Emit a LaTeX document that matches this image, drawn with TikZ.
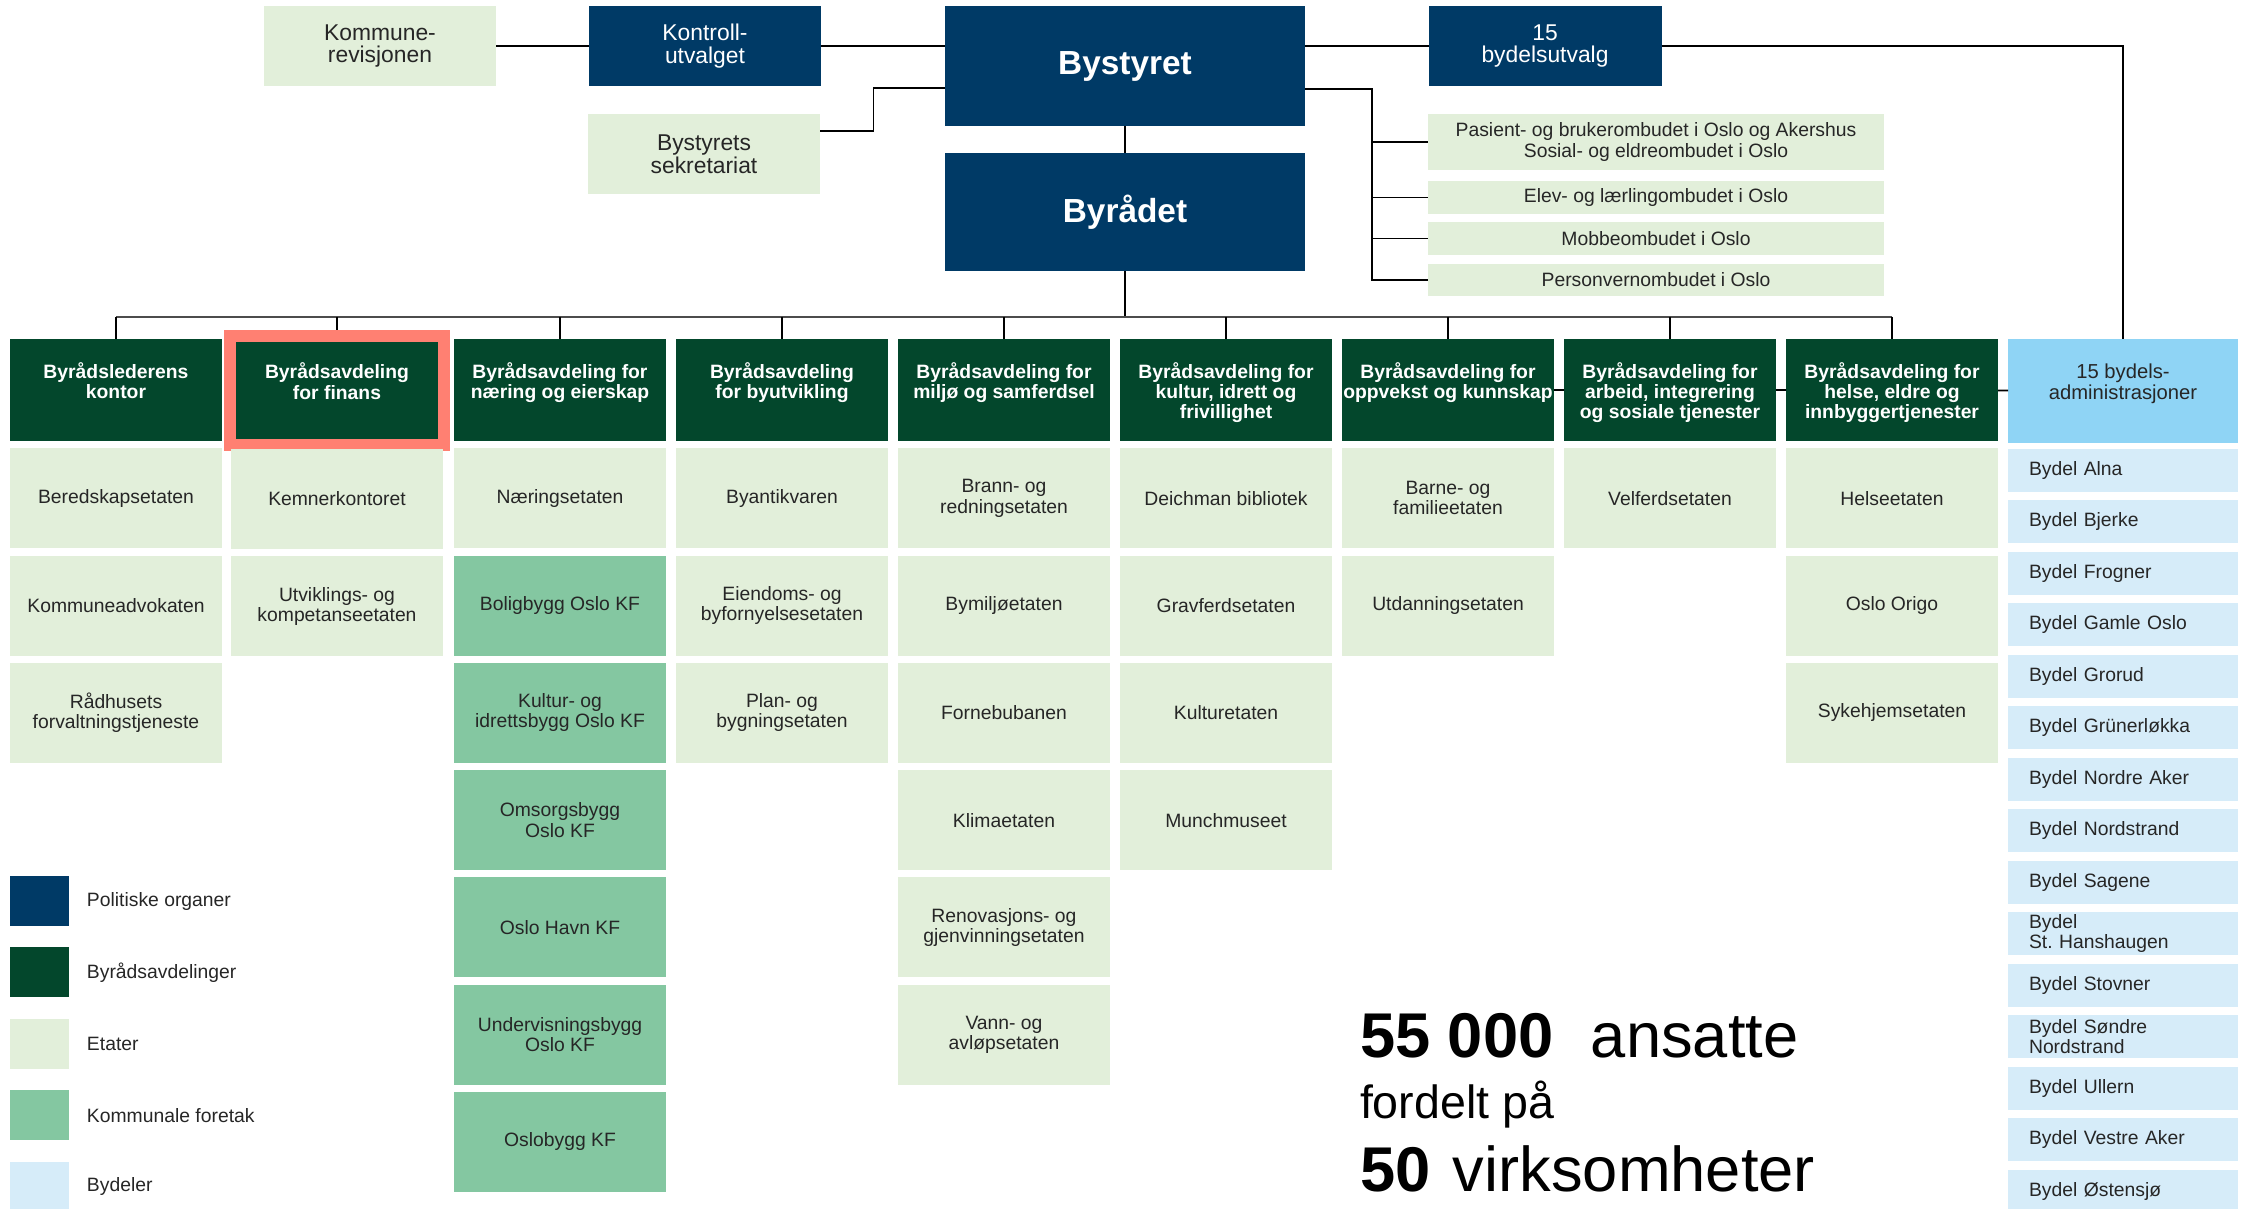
\documentclass[tikz,border=0pt]{standalone}
\usepackage{fontspec}
\setmainfont{Liberation Sans}
\usepackage{tikz}
\usetikzlibrary{positioning}

\definecolor{polblue}{HTML}{003A66}
\definecolor{avdgreen}{HTML}{03472C}
\definecolor{etatgreen}{HTML}{E2EFDA}
\definecolor{kfgreen}{HTML}{84C7A1}
\definecolor{bydelblue}{HTML}{D6ECF9}
\definecolor{adminblue}{HTML}{8FD4F5}
\definecolor{markred}{HTML}{FF8072}
\definecolor{txtgray}{HTML}{262626}

\newcommand{\toptxt}[1]{\parbox[c][1.1cm][t]{4.24cm}{\centering #1}}

\tikzset{x=0.02cm,y=-0.02cm,node distance=0.146cm,
  every node/.style={font=\fontsize{11}{11.5}\selectfont,align=center,inner sep=0pt,outer sep=0pt},
  polbox/.style={fill=polblue,text=white,minimum width=4.66cm,minimum height=1.62cm,font=\fontsize{13}{13}\selectfont},
  topetat/.style={polbox,fill=etatgreen,text=txtgray},
  mainbox/.style={fill=polblue,text=white,minimum width=7.2cm,font=\bfseries\fontsize{19}{19}\selectfont},
  ombud/.style={fill=etatgreen,text=txtgray,minimum width=9.12cm,minimum height=0.66cm},
  avd/.style={fill=avdgreen,text=white,font=\bfseries\fontsize{11}{11.5}\selectfont,minimum width=4.24cm,minimum height=2.04cm},
  admin/.style={fill=adminblue,text=txtgray,minimum width=4.6cm,minimum height=2.08cm,font=\fontsize{11.5}{12}\selectfont},
  etat/.style={fill=etatgreen,text=txtgray,minimum width=4.24cm,minimum height=2cm},
  kf/.style={etat,fill=kfgreen},
  bydel/.style={fill=bydelblue,text=txtgray,minimum width=4.6cm,minimum height=0.86cm,text width=3.76cm,align=left},
  swatch/.style={minimum width=1.18cm,minimum height=1cm},
  conn/.style={draw=black,line width=0.9pt},
  busline/.style={draw=black!70,line width=1.4pt}}

\begin{document}
\begin{tikzpicture}
    \useasboundingbox (0,0) rectangle (2244,1209);
    % politiske organer
    \node[topetat] (kr) at (380,46) {Kommune-\\revisjonen};
    \node[polbox] (ku) at (705,46) {Kontroll-\\utvalget};
    \node[mainbox,minimum height=2.42cm] (by) at (1125,66) {Bystyret};
    \node[topetat,minimum height=1.6cm] (bs) at (704,154) {Bystyrets\\sekretariat};
    \node[mainbox,minimum height=2.38cm] (br) at (1125,212) {Byrådet};
    \node[polbox] (bu) at (1545,46) {15\\bydelsutvalg};
    \node[ombud,minimum height=1.12cm] (pa) at (1656,142) {Pasient- og brukerombudet i Oslo og Akershus\\Sosial- og eldreombudet i Oslo};
    \node[ombud] (el) at (1656,197.5) {Elev- og lærlingombudet i Oslo};
    \node[ombud] (mo) at (1656,238.5) {Mobbeombudet i Oslo};
    \node[ombud] (pe) at (1656,280) {Personvernombudet i Oslo};

    % byraadsavdelinger
    \node[avd] (h1) at (116,390) {\toptxt{Byrådslederens\\kontor}};
    \node[avd,draw=markred,line width=0.24cm,minimum width=4.3cm,minimum height=2.18cm] (h2) at (337,390.5) {\toptxt{Byrådsavdeling\\for finans}};
    \node[avd] (h3) at (560,390) {\toptxt{Byrådsavdeling for\\næring og eierskap}};
    \node[avd] (h4) at (782,390) {\toptxt{Byrådsavdeling\\for byutvikling}};
    \node[avd] (h5) at (1004,390) {\toptxt{Byrådsavdeling for\\miljø og samferdsel}};
    \node[avd] (h6) at (1226,390) {\toptxt{Byrådsavdeling for\\kultur, idrett og\\frivillighet}};
    \node[avd] (h7) at (1448,390) {\toptxt{Byrådsavdeling for\\oppvekst og kunnskap}};
    \node[avd] (h8) at (1670,390) {\toptxt{Byrådsavdeling for\\arbeid, integrering\\og sosiale tjenester}};
    \node[avd] (h9) at (1892,390) {\toptxt{Byrådsavdeling for\\helse, eldre og\\innbyggertjenester}};
    \node[admin] (ba) at (2123,391) {\toptxt{15 bydels-\\administrasjoner}};

    % etater og foretak
    \node[etat,below=of h1] (e11) {Beredskapsetaten};
    \node[etat,below=of e11] (e12) {Kommuneadvokaten};
    \node[etat,below=of e12] (e13) {Rådhusets\\forvaltningstjeneste};
    \node[etat,below=0.08cm of h2] (e21) {Kemnerkontoret};
    \node[etat,below=of e21] (e22) {Utviklings- og\\kompetanseetaten};
    \node[etat,below=of h3] (e31) {Næringsetaten};
    \node[kf,below=of e31] (e32) {Boligbygg Oslo KF};
    \node[kf,below=of e32] (e33) {Kultur- og\\idrettsbygg Oslo KF};
    \node[kf,below=of e33] (e34) {Omsorgsbygg\\Oslo KF};
    \node[kf,below=of e34] (e35) {Oslo Havn KF};
    \node[kf,below=of e35] (e36) {Undervisningsbygg\\Oslo KF};
    \node[kf,below=of e36] (e37) {Oslobygg KF};
    \node[etat,below=of h4] (e41) {Byantikvaren};
    \node[etat,below=of e41] (e42) {Eiendoms- og\\byfornyelsesetaten};
    \node[etat,below=of e42] (e43) {Plan- og\\bygningsetaten};
    \node[etat,below=of h5] (e51) {Brann- og\\redningsetaten};
    \node[etat,below=of e51] (e52) {Bymiljøetaten};
    \node[etat,below=of e52] (e53) {Fornebubanen};
    \node[etat,below=of e53] (e54) {Klimaetaten};
    \node[etat,below=of e54] (e55) {Renovasjons- og\\gjenvinningsetaten};
    \node[etat,below=of e55] (e56) {Vann- og\\avløpsetaten};
    \node[etat,below=of h6] (e61) {Deichman bibliotek};
    \node[etat,below=of e61] (e62) {Gravferdsetaten};
    \node[etat,below=of e62] (e63) {Kulturetaten};
    \node[etat,below=of e63] (e64) {Munchmuseet};
    \node[etat,below=of h7] (e71) {Barne- og\\familieetaten};
    \node[etat,below=of e71] (e72) {Utdanningsetaten};
    \node[etat,below=of h8] (e81) {Velferdsetaten};
    \node[etat,below=of h9] (e91) {Helseetaten};
    \node[etat,below=of e91] (e92) {Oslo Origo};
    \node[etat,below=of e92] (e93) {Sykehjemsetaten};

    % bydeler
    \node[bydel,below=0.12cm of ba] (d1) {Bydel Alna};
    \node[bydel,below=0.17cm of d1] (d2) {Bydel Bjerke};
    \node[bydel,below=0.17cm of d2] (d3) {Bydel Frogner};
    \node[bydel,below=0.17cm of d3] (d4) {Bydel Gamle Oslo};
    \node[bydel,below=0.17cm of d4] (d5) {Bydel Grorud};
    \node[bydel,below=0.17cm of d5] (d6) {Bydel Grünerløkka};
    \node[bydel,below=0.17cm of d6] (d7) {Bydel Nordre Aker};
    \node[bydel,below=0.17cm of d7] (d8) {Bydel Nordstrand};
    \node[bydel,below=0.17cm of d8] (d9) {Bydel Sagene};
    \node[bydel,below=0.17cm of d9] (d10) {Bydel\\St.\ Hanshaugen};
    \node[bydel,below=0.17cm of d10] (d11) {Bydel Stovner};
    \node[bydel,below=0.17cm of d11] (d12) {Bydel Søndre\\Nordstrand};
    \node[bydel,below=0.17cm of d12] (d13) {Bydel Ullern};
    \node[bydel,below=0.17cm of d13] (d14) {Bydel Vestre Aker};
    \node[bydel,below=0.17cm of d14] (d15) {Bydel Østensjø};

    % forklaring
    \node[swatch,fill=polblue] (l1) at (39.5,901) {};
    \node[swatch,fill=avdgreen,below=0.43cm of l1] (l2) {};
    \node[swatch,fill=etatgreen,below=0.43cm of l2] (l3) {};
    \node[swatch,fill=kfgreen,below=0.43cm of l3] (l4) {};
    \node[swatch,fill=bydelblue,below=0.43cm of l4] (l5) {};
    \node[text=txtgray,right=0.36cm of l1] (t1) {Politiske organer};
    \node[text=txtgray,right=0.36cm of l2] (t2) {Byrådsavdelinger};
    \node[text=txtgray,right=0.36cm of l3] (t3) {Etater};
    \node[text=txtgray,right=0.36cm of l4] (t4) {Kommunale foretak};
    \node[text=txtgray,right=0.36cm of l5] (t5) {Bydeler};

    % tall
    \node[anchor=base west,font=\fontsize{36}{36}\selectfont] (ans) at (1360,1057) {\textbf{55 000}\hspace{0.75cm}ansatte};
    \node[anchor=base west,font=\fontsize{26.5}{26.5}\selectfont] (fp) at (1360,1118) {fordelt på};
    \node[anchor=base west,font=\fontsize{36}{36}\selectfont] (vs) at (1360,1191) {\textbf{50}\hspace{0.45cm}virksomheter};

    % linjer
    \coordinate (bus) at (1125,317);
    \draw[conn] (kr) -- (ku);
    \draw[conn] (ku.east) -- (ku.east -| by.west);
    \draw[conn] (bu.west -| by.east) -- (bu.west);
    \draw[conn] (bu.east) -| (ba.north);
    \draw[conn] ([yshift=0.46cm]bs.east) -- ++(1.06cm,0) |- ([yshift=-0.44cm]by.west);
    \draw[conn] ([yshift=-0.46cm]by.east) -- ++(1.34cm,0) coordinate (ob) |- (pe.west);
    \draw[conn] (ob) |- (pa.west) (ob) |- (el.west) (ob) |- (mo.west);
    \draw[conn] (by) -- (br);
    \draw[conn] (br) -- (bus);
    \draw[busline] (h1.north |- bus) -- (h9.north |- bus);
    \path[conn]
    (h1.north |- bus) edge (h1.north)
    (h2.north |- bus) edge ([yshift=0.12cm]h2.north)
    (h3.north |- bus) edge (h3.north)
    (h4.north |- bus) edge (h4.north)
    (h5.north |- bus) edge (h5.north)
    (h6.north |- bus) edge (h6.north)
    (h7.north |- bus) edge (h7.north)
    (h8.north |- bus) edge (h8.north)
    (h9.north |- bus) edge (h9.north)
    ;
    \draw[conn] (h7) -- (h8) (h8) -- (h9) (h9) -- (ba);
\end{tikzpicture}
\end{document}
